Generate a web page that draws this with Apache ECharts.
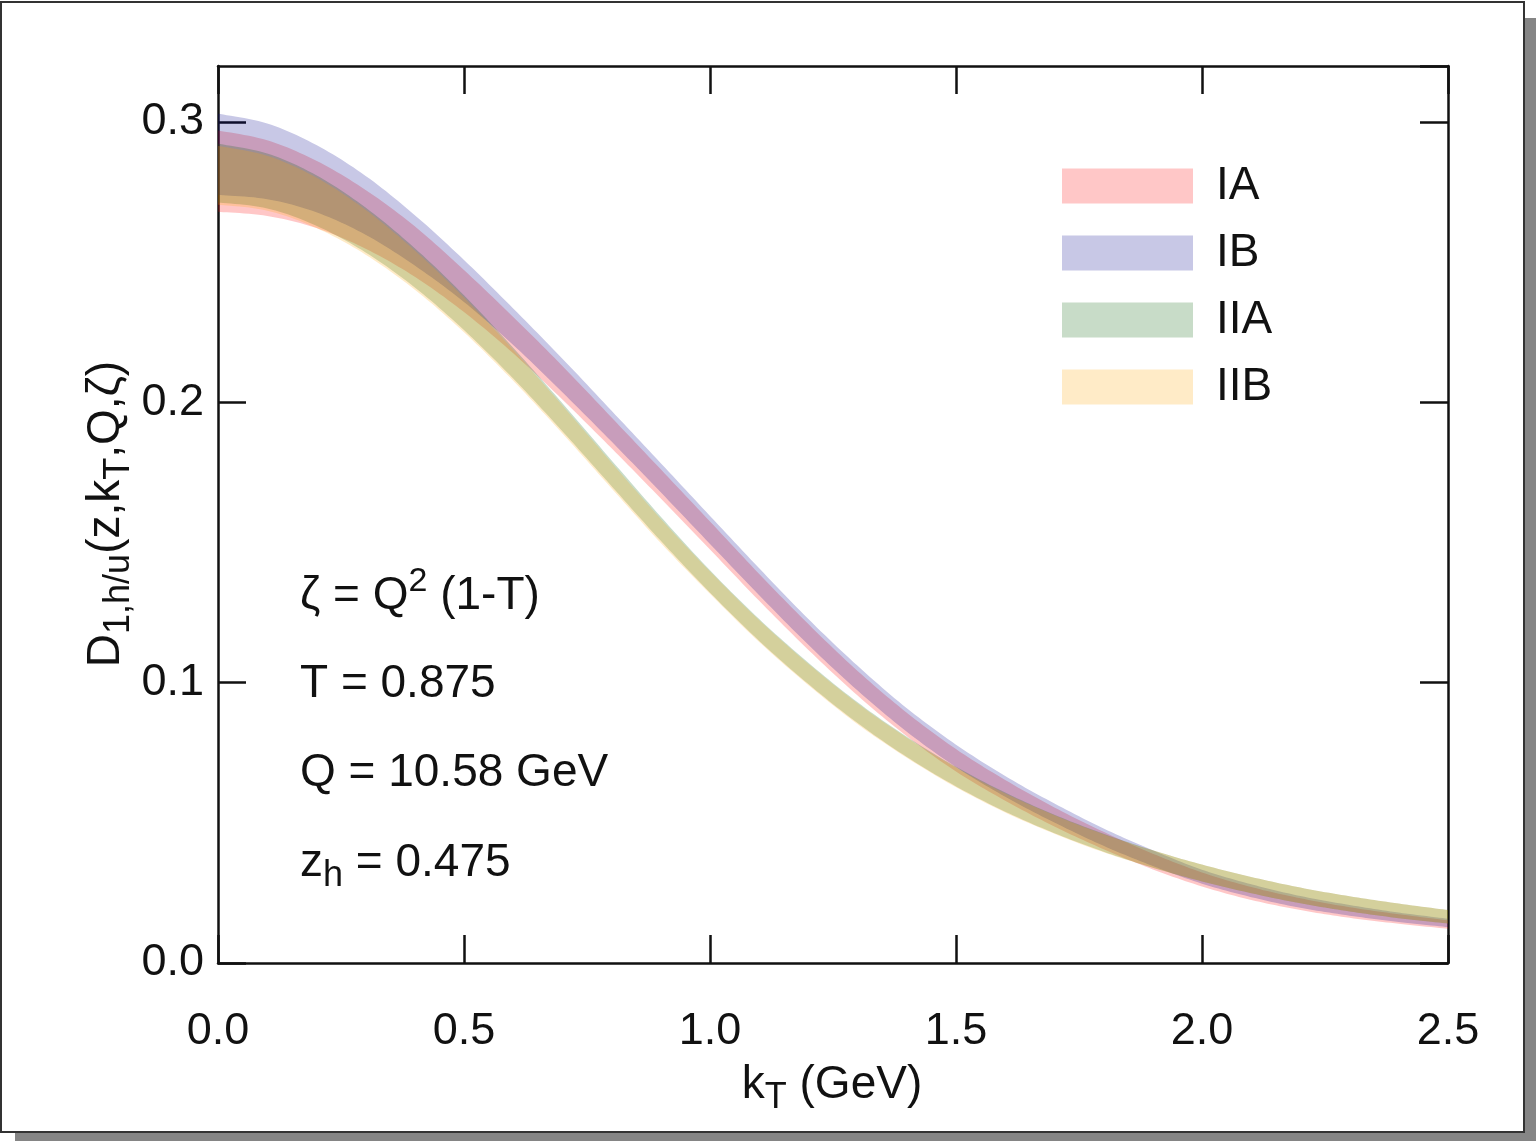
<!DOCTYPE html>
<html>
<head>
<meta charset="utf-8">
<script src="https://cdn.jsdelivr.net/npm/echarts@6/dist/echarts.min.js"></script>
<style>
html,body{margin:0;padding:0;background:#fff;}
#wrap{position:relative;width:1536px;height:1141px;overflow:hidden;background:#fff;}
#shadowR{position:absolute;left:1524px;top:18px;width:12px;height:1123px;background:#858585;}
#shadowB{position:absolute;left:15px;top:1132px;width:1521px;height:9px;background:#858585;}
#page{position:absolute;left:0px;top:1px;width:1521px;height:1128px;border:2px solid #333;background:#fff;}
#chart{position:absolute;left:0;top:0;width:1536px;height:1141px;}
</style>
</head>
<body>
<div id="wrap">
<div id="shadowR"></div><div id="shadowB"></div><div id="page"></div>
<div id="chart"></div>
</div>
<script>
// ---- data ----
var kT = [0.0,0.1,0.2,0.3,0.4,0.5,0.6,0.7,0.8,0.9,1.0,1.1,1.2,1.3,1.4,1.5,1.6,1.7,1.8,1.9,2.0,2.1,2.2,2.3,2.4,2.5];

var IA_lo = [0.2680,0.2665,0.2622,0.2548,0.2448,0.2322,0.2175,0.2010,0.1836,0.1657,0.1475,0.1292,0.1117,0.0954,0.0809,0.0683,0.0579,0.0487,0.0406,0.0334,0.0273,0.0225,0.0189,0.0161,0.0140,0.0122];
var IA_hi = [0.2970,0.2935,0.2862,0.2758,0.2628,0.2472,0.2305,0.2130,0.1946,0.1761,0.1575,0.1388,0.1209,0.1042,0.0893,0.0763,0.0653,0.0555,0.0468,0.0390,0.0323,0.0271,0.0231,0.0199,0.0174,0.0152];

var IB_lo = [0.2740,0.2725,0.2678,0.2598,0.2488,0.2358,0.2205,0.2036,0.1860,0.1679,0.1495,0.1312,0.1135,0.0972,0.0825,0.0699,0.0593,0.0501,0.0418,0.0346,0.0283,0.0235,0.0197,0.0169,0.0146,0.0128];
var IB_hi = [0.3030,0.2995,0.2918,0.2808,0.2668,0.2508,0.2335,0.2156,0.1970,0.1783,0.1595,0.1408,0.1227,0.1060,0.0909,0.0779,0.0667,0.0569,0.0480,0.0402,0.0333,0.0281,0.0239,0.0207,0.0180,0.0158];

var IIA_lo = [0.2713,0.2692,0.2630,0.2535,0.2410,0.2258,0.2085,0.1897,0.1701,0.1506,0.1321,0.1149,0.0995,0.0856,0.0735,0.0630,0.0540,0.0463,0.0397,0.0340,0.0291,0.0249,0.0213,0.0184,0.0160,0.0141];
var IIA_hi = [0.2923,0.2888,0.2810,0.2695,0.2550,0.2382,0.2195,0.1997,0.1793,0.1592,0.1401,0.1227,0.1071,0.0930,0.0807,0.0700,0.0608,0.0529,0.0461,0.0402,0.0351,0.0307,0.0269,0.0238,0.0212,0.0189];

var IIB_lo = [0.2705,0.2684,0.2622,0.2527,0.2402,0.2250,0.2077,0.1889,0.1693,0.1498,0.1317,0.1145,0.0991,0.0852,0.0732,0.0627,0.0537,0.0461,0.0395,0.0340,0.0291,0.0249,0.0213,0.0184,0.0160,0.0141];
var IIB_hi = [0.2915,0.2880,0.2802,0.2687,0.2542,0.2374,0.2187,0.1989,0.1785,0.1584,0.1397,0.1223,0.1067,0.0926,0.0804,0.0697,0.0605,0.0527,0.0459,0.0402,0.0351,0.0307,0.0269,0.0238,0.0212,0.0189];

var xTicks = [0.0,0.5,1.0,1.5,2.0,2.5];
var yTicks = [0.0,0.1,0.2,0.3];
var bandNames = ['IA','IB','IIA','IIB'];
var bandColors = ['rgba(255,0,0,0.22)','rgba(5,5,141,0.22)','rgba(5,96,5,0.22)','rgba(255,164,0,0.22)'];

// ---- build ----
var FONT = '"Liberation Sans", Arial, Helvetica, sans-serif';
var bands = [[IA_lo,IA_hi],[IB_lo,IB_hi],[IIA_lo,IIA_hi],[IIB_lo,IIB_hi]];

// Catmull-Rom sampling of pixel points (rendering only)
function smoothPts(p){
  var out = [], n = p.length, SUB = 12;
  for (var i = 0; i < n - 1; i++){
    var p0 = p[Math.max(i-1,0)], p1 = p[i], p2 = p[i+1], p3 = p[Math.min(i+2,n-1)];
    for (var s = 0; s < SUB; s++){
      var t = s / SUB, t2 = t*t, t3 = t2*t;
      out.push([
        0.5*((2*p1[0]) + (-p0[0]+p2[0])*t + (2*p0[0]-5*p1[0]+4*p2[0]-p3[0])*t2 + (-p0[0]+3*p1[0]-3*p2[0]+p3[0])*t3),
        0.5*((2*p1[1]) + (-p0[1]+p2[1])*t + (2*p0[1]-5*p1[1]+4*p2[1]-p3[1])*t2 + (-p0[1]+3*p1[1]-3*p2[1]+p3[1])*t3)
      ]);
    }
  }
  out.push(p[n-1]);
  return out;
}

var series = bands.map(function(b, i){
  var lo = b[0], hi = b[1];
  return {
    name: bandNames[i], type:'custom', coordinateSystem:'cartesian2d', clip:true, silent:true,
    xAxisIndex:0, yAxisIndex:0, z:2,
    itemStyle:{color:bandColors[i]},
    encode:{x:0, y:[1,2]},
    data: kT.map(function(k,j){return [k, lo[j], hi[j]];}),
    renderItem: function(params, api){
      if (params.dataIndex !== 0) return {type:'group', children:[]};
      var up = kT.map(function(k,j){return api.coord([k, hi[j]]);});
      var dn = kT.map(function(k,j){return api.coord([k, lo[j]]);});
      var pts = smoothPts(up).concat(smoothPts(dn).reverse());
      return {type:'polygon', shape:{points:pts}, style:{fill:bandColors[i], stroke:null}};
    }
  };
});

var axisLineStyle = {color:'#111', width:2.5};
var tickStyle = {color:'#111', width:2.5};
function tickAxisY(pos, withLabels){
  return {
    type:'value', min:0, max:0.32, interval:0.1, position:pos,
    axisLine:{show:true, onZero:false, lineStyle:axisLineStyle},
    axisTick:{show:true, inside:true, length:28, lineStyle:tickStyle},
    axisLabel: withLabels ? {show:true, fontFamily:FONT, fontSize:45, color:'#111', margin:14, showMaxLabel:false,
      formatter:function(v){var r=Math.round(v*10)/10; return (Math.abs(v-r)<1e-9 && yTicks.indexOf(r)>=0) ? r.toFixed(1) : '';}}
      : {show:false},
    splitLine:{show:false}
  };
}

var option = {
  animation:false,
  backgroundColor:'transparent',
  textStyle:{fontFamily:FONT},
  grid:{left:218, top:66, width:1230, height:897, containLabel:false},
  legend:{
    orient:'vertical', left:1062, top:163, padding:0, icon:'rect',
    itemWidth:131, itemHeight:35, itemGap:21,
    itemStyle:{borderWidth:0, opacity:1},
    textStyle:{fontFamily:FONT, fontSize:46, color:'#111', padding:[0,0,0,18]},
    data: bandNames.map(function(n,i){return {name:n, itemStyle:{color:bandColors[i]}};})
  },
  xAxis:[{
    type:'value', min:0, max:2.5, interval:0.5, position:'bottom',
    axisLine:{show:true, onZero:false, lineStyle:axisLineStyle},
    axisTick:{show:true, inside:true, length:28, lineStyle:tickStyle},
    axisLabel:{fontFamily:FONT, fontSize:45, color:'#111', margin:46,
      formatter:function(v){return xTicks.indexOf(Math.round(v*10)/10)>=0 ? v.toFixed(1) : '';}},
    splitLine:{show:false}
  },{
    type:'value', min:0, max:2.5, interval:0.5, position:'top',
    axisLine:{show:true, onZero:false, lineStyle:axisLineStyle},
    axisTick:{show:true, inside:true, length:28, lineStyle:tickStyle},
    axisLabel:{show:false}, splitLine:{show:false}
  }],
  yAxis:[tickAxisY('left', true), tickAxisY('right', false)],
  series: series,
  graphic:[
    // y axis title
    {type:'text', z:50, silent:true, x:106, y:514, rotation:Math.PI/2,
      style:{text:'{m|D}{s|1,h/u}{m|(z,k}{s|T}{m|,Q,ζ)}', align:'center', verticalAlign:'middle',
        rich:{m:{fontFamily:FONT, fontSize:46, fill:'#111', lineHeight:62, verticalAlign:'middle'},
              s:{fontFamily:FONT, fontSize:36, fill:'#111', lineHeight:36, verticalAlign:'bottom'}}}},
    // x axis title
    {type:'text', z:50, silent:true, x:832, y:1085,
      style:{text:'{m|k}{s|T}{m| (GeV)}', align:'center', verticalAlign:'middle',
        rich:{m:{fontFamily:FONT, fontSize:46, fill:'#111', lineHeight:62, verticalAlign:'middle'},
              s:{fontFamily:FONT, fontSize:36, fill:'#111', lineHeight:36, verticalAlign:'bottom'}}}},
    // annotations
    {type:'text', z:50, silent:true, x:300, y:596,
      style:{text:'{m|ζ = Q}{p|2}{m| (1-T)}', align:'left', verticalAlign:'middle',
        rich:{m:{fontFamily:FONT, fontSize:46, fill:'#111', lineHeight:62, verticalAlign:'middle'},
              p:{fontFamily:FONT, fontSize:34, fill:'#111', lineHeight:34, verticalAlign:'top'}}}},
    {type:'text', z:50, silent:true, x:300, y:684,
      style:{text:'T = 0.875', align:'left', verticalAlign:'middle', fontFamily:FONT, fontSize:46, fill:'#111'}},
    {type:'text', z:50, silent:true, x:300, y:773,
      style:{text:'Q = 10.58 GeV', align:'left', verticalAlign:'middle', fontFamily:FONT, fontSize:46, fill:'#111'}},
    {type:'text', z:50, silent:true, x:300, y:863,
      style:{text:'{m|z}{s|h}{m| = 0.475}', align:'left', verticalAlign:'middle',
        rich:{m:{fontFamily:FONT, fontSize:46, fill:'#111', lineHeight:62, verticalAlign:'middle'},
              s:{fontFamily:FONT, fontSize:36, fill:'#111', lineHeight:36, verticalAlign:'bottom'}}}}
  ]
};

var chart = echarts.init(document.getElementById('chart'), null, {renderer:'canvas'});
chart.setOption(option);
</script>
</body>
</html>
